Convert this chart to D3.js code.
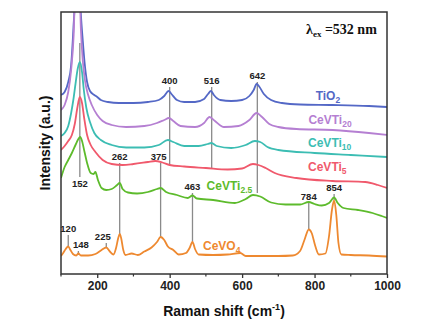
<!DOCTYPE html>
<html>
<head>
<meta charset="utf-8">
<script src="https://cdn.jsdelivr.net/npm/d3@7"></script>
<style>
  body { margin: 0; background: #fff; }
  svg { font-family: "Liberation Sans", Arial, sans-serif; }
</style>
</head>
<body>
<div id="chart"></div>
<script>
// Raman shift (cm-1) and intensity (a.u., stacked)
var tio2X = [100,110,120,128,134,140,145,150,155,160,165,172,180,192,200,210,230,260,300,340,370,385,397,405,420,440,470,495,506,514,522,540,570,600,620,632,640,648,660,680,710,760,850,950,1000];
var tio2Y = [179,182,192,209,244,294,400,294,259,234,212,192,183,179,177,174,172,171,171,172,174,178,183,180,174,172,172,175,180,183,179,174,173,174,178,184,190,187,180,174,171,169.5,169,168,167];

var cv20X = [100,110,120,128,135,142,150,155,160,166,175,185,200,215,240,280,330,365,385,398,410,430,470,495,510,525,550,590,620,640,655,675,700,750,850,950,1000];
var cv20Y = [164,169,182,204,239,320,300,244,214,194,179,169,159,153,149,147,148,151,154,156,153,148,147,151,157,153,147,148,154,161,157,150,147,145,144,141,139];

var cv10X = [100,110,120,128,134,140,146,152,158,163,170,180,192,210,240,280,330,370,395,410,440,480,505,515,530,570,610,635,650,670,700,800,900,1000];
var cv10Y = [138,141,148,161,174,190,205,212,202,184,166,152,141,134,129,126.5,126.5,129,134,132,128,128,130,131,128,126,129,133,132,127,124,121,119,117];

var cv5X = [100,110,120,130,138,145,152,158,164,172,182,195,215,240,270,300,340,360,380,400,440,500,560,600,630,645,665,690,750,850,940,975,1000];
var cv5Y = [124,128,133,139,150,166,177,171,156,139,129,122,114,110,109,110,112,113,111.5,109,107.5,106,104.5,105.5,110,109,106,101,96,93,92,89,86];

var cv25X = [100,110,120,130,140,148,153,158,165,172,182,190,195,202,212,225,240,255,262,270,285,310,340,365,375,390,420,450,463,475,520,580,610,630,650,680,720,760,784,800,820,840,854,864,880,920,960,985,1000];
var cv25Y = [96,107,114,121,129,135,137,133,122,111,101,100,102,94,86,84,85,89,91,85,81.5,80.5,82,85,86,82,79,76,78.5,75.5,74,71,75,79,77.5,71.5,69.5,69.5,72,70,68.5,71,76.5,71,66,64,61,58,56];

var cvo4X = [100,106,113,120,126,133,142,148,155,175,195,212,225,235,245,252,258,262,266,272,278,295,312,330,350,365,375,385,395,410,425,445,455,463,470,480,520,560,595,610,700,740,760,772,784,792,802,812,830,840,848,854,860,866,874,900,950,1000];
var cvo4Y = [18,21,25,27.5,24,20,18.5,20.5,18.5,18.5,20,24,26.5,22.5,19.5,26,36,40,36,24,19,20.5,19,22.5,26.5,32,37,34,27.5,24,19.5,21,26,32,25,19.5,19,19.5,21,18,18,18.5,23,34,44.5,41,28,19.5,20.5,38,64,73.5,59,31,19.5,19,18.5,17.5];

var seriesNames = ["TiO2", "CeVTi20", "CeVTi10", "CeVTi5", "CeVTi2.5", "CeVO4"];
var seriesColors = ["#5468c6", "#b57fd2", "#3cbdb3", "#f0596c", "#5dbb2c", "#ee8930"];

// marked peaks: position, bottom and top of the guide line (a.u.)
var peakPos  = [152, 400, 516, 642, 262, 375, 463, 784, 854, 120, 148, 225];
var peakLow  = [97, 109, 106, 81, 39, 37, 32, 45, 74, 28, 19, 26];
var peakHigh = [231, 187, 187, 192, 111, 111, 81, 71, 80, 39, 23, 31];

var xTicks = [200, 400, 600, 800, 1000];
var xMinor = [100, 300, 500, 700, 900];

var margin = {top: 12, right: 51, bottom: 50, left: 61},
  width = 438 - margin.left - margin.right,
  height = 324 - margin.top - margin.bottom;

var svg = d3.select("#chart")
.append("svg")
  .attr("width", 438)
  .attr("height", 324)
.append("g")
  .attr("transform", "translate(" + margin.left + "," + margin.top + ")");

var x = d3.scaleLinear().domain([100, 1000]).range([0, width]);
var y = d3.scaleLinear().domain([0, 262]).range([height, 0]);

svg.append("clipPath").attr("id", "clip")
  .append("rect").attr("width", width).attr("height", height);

// peak guide lines
var guides = svg.append("g").attr("clip-path", "url(#clip)");
peakPos.forEach(function(p, i) {
  guides.append("line")
    .attr("x1", x(p)).attr("x2", x(p))
    .attr("y1", y(peakLow[i])).attr("y2", y(peakHigh[i]))
    .attr("stroke", "#8a8a8a")
    .attr("stroke-width", 1.3);
});

// spectra
var allX = [tio2X, cv20X, cv10X, cv5X, cv25X, cvo4X];
var allY = [tio2Y, cv20Y, cv10Y, cv5Y, cv25Y, cvo4Y];

var line = d3.line()
  .x(d => x(d[0]))
  .y(d => y(d[1]))
  .curve(d3.curveMonotoneX);

var plot = svg.append("g").attr("clip-path", "url(#clip)");
seriesNames.forEach(function(name, i) {
  plot.append("path")
    .datum(d3.zip(allX[i], allY[i]))
    .attr("fill", "none")
    .attr("stroke", seriesColors[i])
    .attr("stroke-width", 1.8)
    .attr("stroke-linejoin", "round")
    .attr("d", line);
});

// peak numbers
peakPos.forEach(function(p, i) {
  var dx = 0, below = p == 152;
  if (p == 148) dx = 2.5;
  if (p == 225) dx = -3.5;
  if (p == 375) dx = -2;
  svg.append("text")
    .attr("x", x(p) + dx)
    .attr("y", below ? y(peakLow[i]) + 10 : y(peakHigh[i]) - 3)
    .attr("text-anchor", "middle")
    .attr("font-size", "9.5px")
    .attr("font-weight", "bold")
    .attr("fill", "#222")
    .text(p);
});

// series names with subscripts
var labelAt = [[803, 174], [783, 150], [782, 127.5], [782, 103.5], [502, 84.5], [492, 24]];
seriesNames.forEach(function(name, i) {
  var m = name.match(/^(\D+?)([\d.]+)$/);
  var t = svg.append("text")
    .attr("x", x(labelAt[i][0]))
    .attr("y", y(labelAt[i][1]))
    .attr("font-size", "12px")
    .attr("font-weight", "bold")
    .attr("fill", seriesColors[i]);
  t.append("tspan").text(m[1]);
  t.append("tspan").attr("font-size", "8.5px").attr("dy", 3).text(m[2]);
});

// excitation wavelength
var lam = svg.append("text")
  .attr("x", 245)
  .attr("y", 22)
  .style("font-family", "'Liberation Serif', 'Times New Roman', serif")
  .attr("font-size", "14px")
  .attr("font-weight", "bold")
  .attr("fill", "#111");
lam.append("tspan").text("\u03bb");
lam.append("tspan").attr("font-size", "9px").attr("dy", 3).text("ex");
lam.append("tspan").attr("dy", -3).text(" =532 nm");

// frame
svg.append("rect")
  .attr("width", width)
  .attr("height", height)
  .attr("fill", "none")
  .attr("stroke", "#333")
  .attr("stroke-width", 1.5);

// x axis
var xAxis = svg.append("g")
  .attr("transform", "translate(0," + height + ")")
  .call(d3.axisBottom(x).tickValues(xTicks).tickFormat(d3.format("d")).tickSize(4).tickPadding(3));
xAxis.select(".domain").remove();
xAxis.selectAll("line").attr("stroke", "#333").attr("stroke-width", 1.3);
xAxis.selectAll("text")
  .attr("font-size", "12px")
  .attr("font-weight", "bold")
  .attr("font-family", "'Liberation Sans', Arial, sans-serif")
  .attr("fill", "#222");

svg.append("g")
  .attr("transform", "translate(0," + height + ")")
  .selectAll("line")
  .data(xMinor)
  .enter()
  .append("line")
    .attr("x1", d => x(d)).attr("x2", d => x(d))
    .attr("y1", 0).attr("y2", 2.5)
    .attr("stroke", "#333")
    .attr("stroke-width", 1.2);

// axis titles
var xt = svg.append("text")
  .attr("x", width / 2)
  .attr("y", height + 42)
  .attr("text-anchor", "middle")
  .attr("font-size", "14px")
  .attr("font-weight", "bold")
  .attr("fill", "#111");
xt.append("tspan").text("Raman shift (cm");
xt.append("tspan").attr("font-size", "9px").attr("dy", -6).text("-1");
xt.append("tspan").attr("dy", 6).text(")");

svg.append("text")
  .attr("transform", "translate(-11," + height / 2 + ") rotate(-90)")
  .attr("text-anchor", "middle")
  .attr("font-size", "14px")
  .attr("font-weight", "bold")
  .attr("fill", "#111")
  .text("Intensity (a.u.)");
</script>
</body>
</html>
